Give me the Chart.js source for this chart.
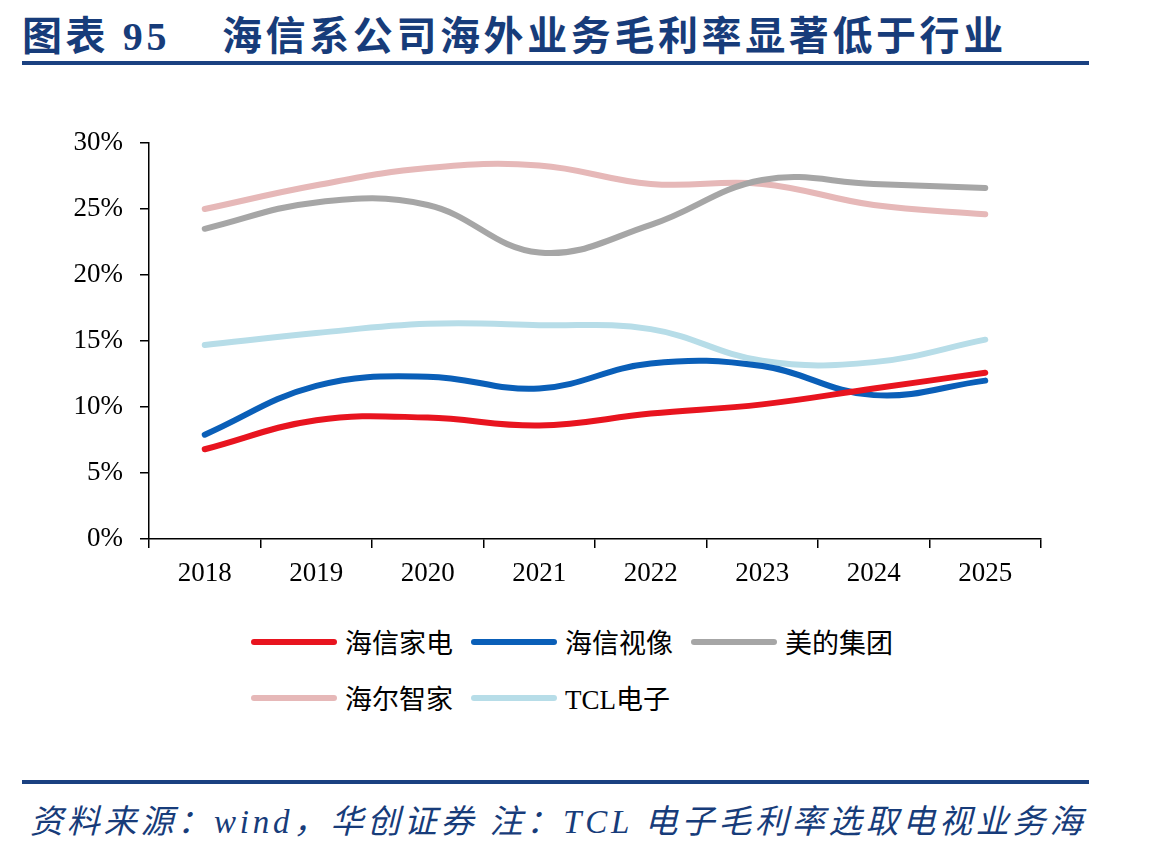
<!DOCTYPE html>
<html>
<head>
<meta charset="utf-8">
<script src="https://cdn.jsdelivr.net/npm/chart.js@4.4.1/dist/chart.umd.min.js"></script>
<style>
  body { margin: 0; background: #fff; width: 1149px; height: 849px; position: relative; overflow: hidden; }
  .title { position: absolute; top: 4px; font-family: "Liberation Serif", "Noto Sans CJK SC"; font-weight: bold; font-size: 40px; color: #173c7a; white-space: nowrap; letter-spacing: 3.6px; }
  .rule { position: absolute; left: 22px; width: 1067px; height: 4px; background: #1a4181; }
  .footer { position: absolute; left: 30px; top: 795px; font-family: "Liberation Serif", "Noto Sans CJK SC"; font-style: italic; font-size: 33px; color: #173c7a; white-space: nowrap; letter-spacing: 3.8px; }
  .legend-item { position: absolute; display: flex; align-items: center; font-family: "Liberation Serif", "Noto Sans CJK SC"; font-size: 27px; color: #000; white-space: nowrap; }
  .legend-item span.swatch { display: inline-block; width: 86px; height: 6px; border-radius: 3px; margin-right: 8px; }
  #wrap { position: absolute; left: 0; top: 0; width: 1149px; height: 600px; }
</style>
</head>
<body>
<div class="title" style="left:22px">图表 95</div>
<div class="title" style="left:222px">海信系公司海外业务毛利率显著低于行业</div>
<div class="rule" style="top:61px"></div>
<div id="wrap"><canvas id="chart" width="1149" height="600"></canvas></div>
<div id="legend"></div>
<div class="rule" style="top:780px"></div>
<div class="footer">资料来源：wind，华创证券 注：TCL 电子毛利率选取电视业务海</div>
<script>
// DATA (gross margin, %)
const YEARS = ['2018', '2019', '2020', '2021', '2022', '2023', '2024', '2025'];
const HISENSE_HOME = [6.8, 9.0, 9.2, 8.6, 9.5, 10.2, 11.4, 12.6];
const HISENSE_VISUAL = [7.9, 11.6, 12.3, 11.4, 13.3, 13.1, 10.9, 12.0];
const MIDEA = [23.5, 25.5, 25.3, 21.7, 23.8, 27.2, 26.9, 26.6];
const HAIER = [25.0, 26.8, 28.1, 28.3, 26.9, 26.9, 25.3, 24.6];
const TCL = [14.7, 15.6, 16.3, 16.2, 15.9, 13.5, 13.4, 15.1];
const Y_TICKS = [0, 5, 10, 15, 20, 25, 30];

const SERIES = [
    { label: '海信家电', data: HISENSE_HOME, color: '#e8141f' },
    { label: '海信视像', data: HISENSE_VISUAL, color: '#0a5fb8' },
    { label: '美的集团', data: MIDEA, color: '#a6a6a6' },
    { label: '海尔智家', data: HAIER, color: '#e6b8b8' },
    { label: 'TCL电子', data: TCL, color: '#b7dde8' }
];

// html legend, two rows like the original
const legendPos = [[251, 642], [471, 642], [691, 642], [251, 698], [471, 698]];
const legendEl = document.getElementById('legend');
SERIES.forEach((s, i) => {
    const d = document.createElement('div');
    d.className = 'legend-item';
    d.style.left = legendPos[i][0] + 'px';
    d.style.top = (legendPos[i][1] - 20) + 'px';
    d.innerHTML = '<span class="swatch" style="background:' + s.color + '"></span>' + s.label;
    legendEl.appendChild(d);
});

const tickFont = { family: '"Liberation Serif", "Times New Roman", serif', size: 27 };

new Chart(document.getElementById('chart').getContext('2d'), {
    type: 'line',
    data: {
        labels: YEARS,
        datasets: SERIES.map(s => ({
            label: s.label,
            data: s.data,
            borderColor: s.color,
            backgroundColor: s.color,
            borderWidth: 6,
            borderCapStyle: 'round',
            tension: 0.4,
            pointRadius: 0,
            fill: false
        }))
    },
    options: {
        responsive: false,
        animation: false,
        layout: { padding: { top: 143, right: 108, left: 0, bottom: 0 } },
        plugins: { legend: { display: false }, tooltip: { enabled: false } },
        scales: {
            x: {
                offset: true,
                grid: { offset: true, drawOnChartArea: false, color: '#000', lineWidth: 1.5, tickLength: 9 },
                border: { color: '#000', width: 1.5 },
                ticks: { color: '#000', font: tickFont, padding: 10, maxRotation: 0 },
                afterFit: s => { s.height = 61; }
            },
            y: {
                min: 0,
                max: 30,
                afterBuildTicks: s => { s.ticks = Y_TICKS.map(v => ({ value: v })); },
                grid: { drawOnChartArea: false, color: '#000', lineWidth: 1.5, tickLength: 9 },
                border: { color: '#000', width: 1.5 },
                ticks: { color: '#000', font: tickFont, padding: 17, callback: v => v + '%' },
                afterFit: s => { s.width = 149; }
            }
        }
    }
});
</script>
</body>
</html>
